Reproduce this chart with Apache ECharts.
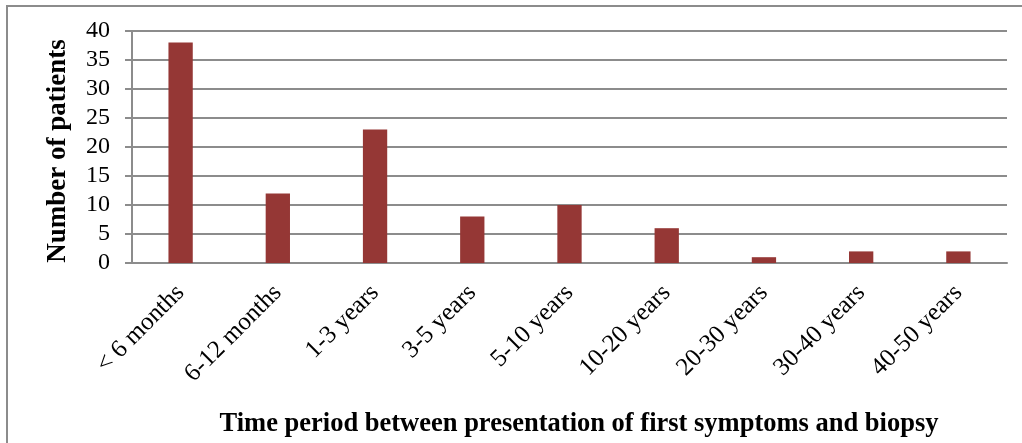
<!DOCTYPE html>
<html>
<head>
<meta charset="utf-8">
<script src="https://cdn.jsdelivr.net/npm/echarts@6/dist/echarts.min.js"></script>
<style>
  html, body { margin: 0; padding: 0; background: #fff; }
  #chart { width: 1022px; height: 443px; }
</style>
</head>
<body>
<div id="chart"></div>
<script>
// Time from first symptoms to biopsy, grouped into periods
const categories = ['< 6 months', '6-12 months', '1-3 years', '3-5 years', '5-10 years',
                    '10-20 years', '20-30 years', '30-40 years', '40-50 years'];
const patients = [38, 12, 23, 8, 10, 6, 1, 2, 2];
const yTicks = { min: 0, max: 40, interval: 5 };
const yAxisTitle = 'Number of patients';
const xAxisTitle = 'Time period between presentation of first symptoms and biopsy';

const serif = '"Liberation Serif", "DejaVu Serif", serif';
const gridColor = '#8c8c8c';

const chart = echarts.init(document.getElementById('chart'), null, { renderer: 'canvas' });
chart.setOption({
  animation: false,
  backgroundColor: '#fff',
  grid: { left: 132, right: 15, top: 31, bottom: 180, containLabel: false },
  xAxis: {
    type: 'category',
    data: categories,
    axisLine: { show: true, lineStyle: { color: gridColor, width: 2 } },
    axisTick: { show: false },
    axisLabel: {
      rotate: 45, interval: 0, margin: 26,
      fontFamily: serif, fontSize: 25, color: '#000'
    }
  },
  yAxis: {
    type: 'value',
    min: yTicks.min, max: yTicks.max, interval: yTicks.interval,
    name: yAxisTitle,
    nameLocation: 'middle',
    nameGap: 60,
    nameTextStyle: {
      fontFamily: serif, fontSize: 27, fontWeight: 'bold', color: '#000',
      padding: [0, 8, 0, 0]
    },
    axisLine: { show: true, lineStyle: { color: gridColor, width: 2 } },
    axisTick: { show: true, length: 7, lineStyle: { color: gridColor, width: 2 } },
    axisLabel: { fontFamily: serif, fontSize: 24, color: '#000', margin: 22 },
    splitLine: { show: true, lineStyle: { color: gridColor, width: 2 } }
  },
  series: [{
    type: 'bar',
    data: patients,
    barWidth: '25%',
    itemStyle: { color: '#953735' }
  }],
  graphic: [
    {
      type: 'rect', silent: true, z: -1,
      shape: { x: 7, y: 6, width: 1040, height: 460 },
      style: { fill: 'none', stroke: gridColor, lineWidth: 2 }
    },
    {
      type: 'text', silent: true,
      x: 579, y: 424,
      style: {
        text: xAxisTitle,
        fontFamily: serif, fontSize: 26.5, fontWeight: 'bold', fill: '#000',
        align: 'center', verticalAlign: 'middle',
        textAlign: 'center', textVerticalAlign: 'middle'
      }
    }
  ]
});
</script>
</body>
</html>
